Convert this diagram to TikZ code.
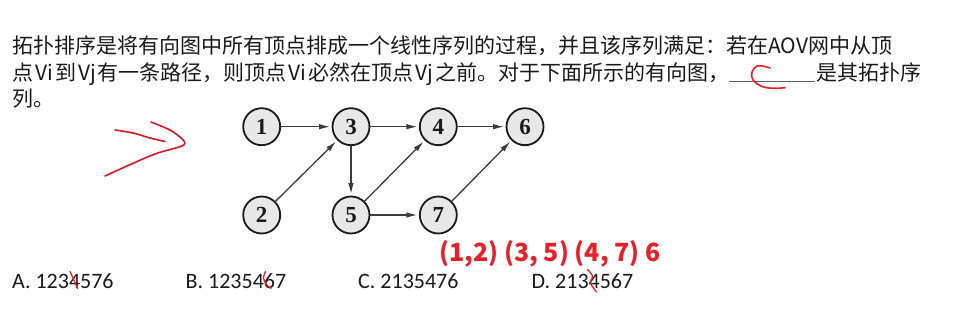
\documentclass[tikz,border=0pt]{standalone}
\usepackage{fontspec}
\usetikzlibrary{arrows.meta}
\newfontfamily\cjk{Noto Sans CJK SC}
\newfontfamily\optfont{Carlito}
\newfontfamily\numfont{Liberation Serif}
\definecolor{ink}{HTML}{1A1A1A}
\definecolor{pen}{HTML}{D01828}
\definecolor{penbright}{HTML}{E8202A}
% Latin word set inside a Chinese line, with a little air on both sides
\newcommand{\lat}[1]{\hspace{2pt}#1\hspace{2pt}}
\tikzset{
  para/.style={anchor=base west, inner sep=0pt, text=ink, font=\cjk\fontsize{21}{25}\selectfont},
  vertex/.style={circle, draw=ink, line width=1.8pt, fill=black!9, minimum size=37pt, inner sep=0pt,
                 font=\numfont\bfseries\fontsize{23}{23}\selectfont, text=ink},
  edge/.style={-{Latex[length=11pt,width=5.5pt]}, line width=1.3pt, draw=ink!85, shorten >=1.5pt},
  option/.style={anchor=base west, inner sep=0pt, text=ink, font=\optfont\fontsize{22}{22}\selectfont},
  hand/.style={draw=pen, line width=1.6pt, line cap=round, line join=round},
  answer/.style={anchor=base west, inner sep=0pt, text=penbright, font=\cjk\bfseries\fontsize{25}{25}\selectfont}
}
\begin{document}
\begin{tikzpicture}[x=1pt, y=-1pt]
\useasboundingbox (0,0) rectangle (974,331);
\fill[white] (0,0) rectangle (974,331);

% question text
\node[para] (l1) at (12,53.5) {拓扑排序是将有向图中所有顶点排成一个线性序列的过程，并且该序列满足：若在AOV网中从顶};
\node[para] (l2) at (12,81) {点\lat{Vi}到\lat{Vj}有一条路径，则顶点\lat{Vi}必然在顶点\lat{Vj}之前。对于下面所示的有向图，};
\coordinate (blankL) at (729,81.5);
\coordinate (blankR) at (815,81.5);
\draw[ink!70, line width=0.8pt] (blankL) -- (blankR);
\node[para] (l2b) at (816,81) {是其拓扑序};
\node[para] (l3) at (12,107) {列。};

% handwritten mark in the blank
\draw[hand, draw=penbright] plot[smooth, tension=0.6] coordinates
  {(770,68) (765,66.5) (757,66) (752,72) (753,80) (762,86.5) (773,88.3) (785,87.7)};

% handwritten arrow pointing at the graph
\draw[hand] plot[smooth, tension=0.6] coordinates
  {(115,130) (133,133) (150,138) (165,141.5)};
\draw[hand] plot[smooth, tension=0.5] coordinates
  {(151,122) (170,130) (181.5,138.3) (185,143.3) (180,146.7) (157,153.3) (133,163.3) (105,176)};

% the directed graph
\node[vertex] (v1) at (261.7,126.7) {1};
\node[vertex] (v3) at (351.0,126.7) {3};
\node[vertex] (v4) at (438.3,126.7) {4};
\node[vertex] (v6) at (525.0,126.7) {6};
\node[vertex] (v2) at (261.7,215.0) {2};
\node[vertex] (v5) at (351.0,215.0) {5};
\node[vertex] (v7) at (438.3,215.0) {7};

\draw[edge] (v1) -- (v3);
\draw[edge] (v3) -- (v4);
\draw[edge] (v4) -- (v6);
\draw[edge] (v2) -- (v3);
\draw[edge] (v3) -- (v5);
\draw[edge] (v5) -- (v4);
\draw[edge] (v5) -- (v7);
\draw[edge] (v7) -- (v6);

% working written beside the answer choices
\node[answer] (work) at (439,261.7) {(1,2) (3, 5) (4, 7) 6};

% answer choices
\node[option] (optA) at (12,288.3) {A. 1234576};
\node[option] (optB) at (185.5,288.3) {B. 1235467};
\node[option] (optC) at (358,288.3) {C. 2135476};
\node[option] (optD) at (531.5,288.3) {D. 2134567};

% strokes crossing out digits
\draw[hand, line width=1.3pt, draw=penbright] plot[smooth] coordinates {(70,271.5) (73.5,279) (77.5,288.5)};
\draw[hand, line width=1.3pt, draw=penbright] plot[smooth] coordinates {(265.5,271.5) (263.5,278) (266,284) (271,288.5)};
\draw[hand, line width=1.3pt, draw=penbright] plot[smooth] coordinates {(587.5,269.5) (592.5,276) (590.5,283) (596.5,292)};
\end{tikzpicture}
\end{document}
